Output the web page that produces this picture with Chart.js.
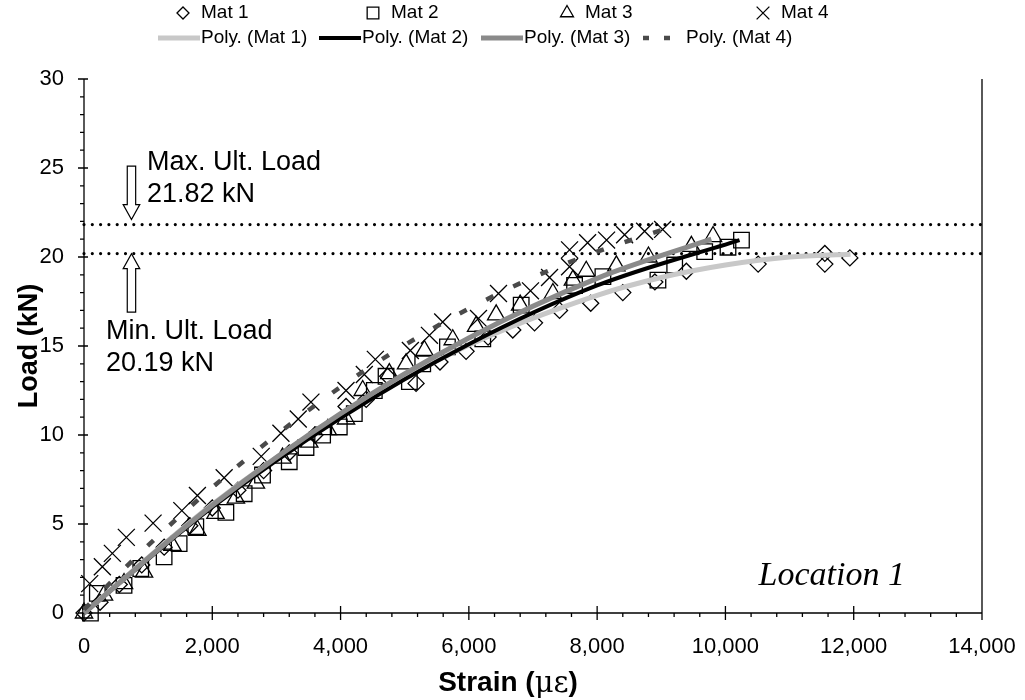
<!DOCTYPE html>
<html>
<head>
<meta charset="utf-8">
<script src="https://cdn.jsdelivr.net/npm/chart.js@4.4.0/dist/chart.umd.min.js"></script>
<style>
  html, body { margin: 0; padding: 0; background: #fff; }
  #wrap { width: 1025px; height: 700px; }
</style>
</head>
<body>
<div id="wrap"><canvas id="strainChart" width="1025" height="700"></canvas></div>
<script>
// Load vs. strain readings, four materials
const mat1Strain = [0, 250, 550, 900, 1250, 1650, 2000, 2400, 2800, 3200, 3600, 4085, 4400, 4734, 5177, 5550, 5957, 6300, 6685, 7024, 7414, 7900, 8400, 8900, 9391, 10510, 11550, 11550, 11940];
const mat1Load = [0, 0.6, 1.6, 2.7, 3.7, 4.9, 5.9, 6.9, 8.0, 9.0, 10.0, 11.6, 12.0, 13.3, 12.9, 14.1, 14.7, 15.5, 15.9, 16.3, 17.0, 17.4, 18.0, 18.6, 19.2, 19.6, 20.2, 19.6, 19.95];

const mat2Strain = [100, 208, 624, 885, 1249, 1483, 1743, 2212, 2497, 2783, 3200, 3461, 3720, 3980, 4214, 4526, 4709, 5073, 5281, 5666, 6217, 6816, 7648, 8090, 8948, 9209, 9677, 10040, 10250];
const mat2Load = [0, 1.1, 1.55, 2.5, 3.15, 3.9, 4.85, 5.65, 6.7, 7.75, 8.5, 9.3, 10.0, 10.45, 11.2, 12.5, 13.3, 13.0, 14.0, 14.95, 15.4, 17.3, 18.4, 18.9, 18.7, 19.55, 20.3, 20.55, 20.95];

const mat3Strain = [0, 312, 624, 936, 1378, 1768, 2050, 2368, 2680, 3095, 3512, 3800, 4085, 4345, 4760, 5021, 5307, 5749, 6113, 6426, 6800, 7310, 7622, 7830, 8300, 8800, 9469, 9807];
const mat3Load = [0, 1.0, 1.65, 2.3, 3.8, 4.65, 5.6, 6.45, 7.3, 8.7, 9.6, 10.3, 10.9, 12.5, 13.45, 14.0, 14.75, 15.35, 16.1, 16.75, 17.3, 17.95, 18.7, 19.2, 19.5, 20.0, 20.6, 21.15];

const mat4Strain = [89, 286, 442, 660, 1077, 1525, 1768, 2185, 2763, 3070, 3340, 3538, 4085, 4370, 4542, 5088, 5385, 5592, 6150, 6462, 6961, 7258, 7570, 7570, 7851, 8147, 8428, 8740, 9021];
const mat4Load = [1.65, 2.6, 3.35, 4.25, 5.05, 5.75, 6.6, 7.6, 8.8, 10.1, 10.9, 11.85, 12.5, 13.4, 14.25, 14.75, 15.6, 16.35, 16.55, 17.95, 18.1, 18.85, 19.45, 20.4, 20.8, 20.95, 21.25, 21.45, 21.55];

// Polynomial trend curves
const poly1Strain = [0, 2000, 4000, 6000, 8000, 9000, 10000, 11000, 11950];
const poly1Load = [0, 6.1, 11.1, 15.05, 17.85, 18.85, 19.55, 20.0, 20.15];
const poly2Strain = [0, 2000, 4000, 6000, 8000, 10220];
const poly2Load = [0, 5.95, 10.95, 15.1, 18.4, 20.95];
const poly3Strain = [0, 2000, 4000, 6000, 8000, 9780];
const poly3Load = [0, 6.05, 11.2, 15.45, 18.8, 21.0];
const poly4Strain = [0, 1000, 2000, 3000, 4000, 5000, 6000, 7000, 8000, 9000];
const poly4Load = [0.2, 3.8, 7.05, 10.0, 12.7, 15.05, 17.1, 18.85, 20.3, 21.5];

const maxUltLoad = 21.82;
const minUltLoad = 20.19;
const strainRange = [0, 14000];
const loadRange = [0, 30];

const FONT = "'Liberation Sans', Arial, sans-serif";

function pts(xs, ys) {
  return xs.map((x, i) => ({ x: x, y: ys[i] }));
}

function scatterSet(label, xs, ys, style, r) {
  return {
    type: "scatter",
    label: label,
    data: pts(xs, ys),
    pointStyle: style,
    pointRadius: r,
    pointHoverRadius: r,
    pointBorderColor: "#000",
    pointBackgroundColor: "rgba(0,0,0,0)",
    pointBorderWidth: 1.3,
    showLine: false,
    clip: false,
    order: 6,
  };
}

function trendSet(label, xs, ys, color, width, dash, order) {
  return {
    type: "line",
    label: label,
    data: pts(xs, ys),
    borderColor: color,
    borderWidth: width,
    borderDash: dash,
    pointRadius: 0,
    cubicInterpolationMode: "monotone",
    fill: false,
    clip: false,
    order: order,
  };
}

function limitSet(load) {
  return {
    type: "line",
    label: "",
    data: [{ x: strainRange[0], y: load }, { x: strainRange[1], y: load }],
    borderColor: "#000",
    borderWidth: 3.2,
    borderDash: [0, 8.3],
    borderCapStyle: "round",
    pointRadius: 0,
    clip: false,
    order: 9,
  };
}

const datasets = [
  scatterSet("Mat 1", mat1Strain, mat1Load, "rectRot", 8),
  scatterSet("Mat 2", mat2Strain, mat2Load, "rect", 11),
  scatterSet("Mat 3", mat3Strain, mat3Load, "triangle", 10),
  scatterSet("Mat 4", mat4Strain, mat4Load, "crossRot", 12),
  trendSet("Poly. (Mat 1)", poly1Strain, poly1Load, "#c8c8c8", 5, [], 4),
  trendSet("Poly. (Mat 2)", poly2Strain, poly2Load, "#000", 4, [], 3),
  trendSet("Poly. (Mat 3)", poly3Strain, poly3Load, "#8a8a8a", 5, [], 2),
  trendSet("Poly. (Mat 4)", poly4Strain, poly4Load, "#4a4a4a", 4.5, [8, 22], 1),
  limitSet(maxUltLoad),
  limitSet(minUltLoad),
];

// Two-row legend: markers on top, trend lines underneath
const legendRow1X = [183, 373, 567, 763];
const legendRow2X = [155, 316, 478, 640];

const legendRows = {
  id: "legendRows",
  afterDraw(chart) {
    const ctx = chart.ctx;
    const ds = chart.data.datasets;
    ctx.save();
    ctx.font = "19px " + FONT;
    ctx.fillStyle = "#000";
    ctx.textBaseline = "middle";
    for (let i = 0; i < 4; i++) {
      const d = ds[i];
      ctx.strokeStyle = "#000";
      ctx.fillStyle = "rgba(0,0,0,0)";
      ctx.lineWidth = 1.3;
      Chart.helpers.drawPoint(ctx, { pointStyle: d.pointStyle, radius: d.pointRadius * 0.75, rotation: 0, borderWidth: 1.3 }, legendRow1X[i], 13);
      ctx.fillStyle = "#000";
      ctx.fillText(d.label, legendRow1X[i] + 18, 13);
    }
    for (let i = 0; i < 4; i++) {
      const d = ds[i + 4];
      const x0 = legendRow2X[i];
      ctx.beginPath();
      ctx.strokeStyle = d.borderColor;
      ctx.lineWidth = d.borderWidth;
      if (d.borderDash.length) {
        ctx.setLineDash([6, 15]);
        ctx.moveTo(x0 + 3, 38);
        ctx.lineTo(x0 + 30, 38);
      } else {
        ctx.moveTo(x0 + 3, 38);
        ctx.lineTo(x0 + 45, 38);
      }
      ctx.stroke();
      ctx.setLineDash([]);
      ctx.fillStyle = "#000";
      ctx.fillText(d.label, x0 + 46, 38);
    }
    ctx.restore();
  },
};

// Axis lines, major/minor tick marks and the plot frame
const axisFrame = {
  id: "axisFrame",
  beforeDatasetsDraw(chart) {
    const ctx = chart.ctx;
    const a = chart.chartArea;
    const xs = chart.scales.x;
    const ys = chart.scales.y;
    ctx.save();
    ctx.strokeStyle = "#000";
    ctx.lineWidth = 1.3;
    ctx.beginPath();
    ctx.moveTo(a.left, a.top);
    ctx.lineTo(a.left, a.bottom);
    ctx.lineTo(a.right, a.bottom);
    ctx.lineTo(a.right, a.top);
    for (let v = 0; v <= 14000; v += 400) {
      const px = xs.getPixelForValue(v);
      if (v % 2000 === 0) {
        ctx.moveTo(px, a.bottom - 7);
        ctx.lineTo(px, a.bottom + 7);
      } else {
        ctx.moveTo(px, a.bottom);
        ctx.lineTo(px, a.bottom + 4);
      }
    }
    for (let v = 0; v <= 30; v += 1) {
      const py = ys.getPixelForValue(v);
      if (v % 5 === 0) {
        ctx.moveTo(a.left - 6, py);
        ctx.lineTo(a.left + 4, py);
      } else {
        ctx.moveTo(a.left - 4, py);
        ctx.lineTo(a.left, py);
      }
    }
    ctx.stroke();
    ctx.restore();
  },
};

// Hollow block arrow pointing up (dir = -1) or down (dir = 1)
function blockArrow(ctx, x, yTail, yTip, dir) {
  const shaft = 4.2;
  const head = 8.3;
  const headLen = 15;
  const yNeck = yTip - dir * headLen;
  ctx.beginPath();
  ctx.moveTo(x - shaft, yTail);
  ctx.lineTo(x - shaft, yNeck);
  ctx.lineTo(x - head, yNeck);
  ctx.lineTo(x, yTip);
  ctx.lineTo(x + head, yNeck);
  ctx.lineTo(x + shaft, yNeck);
  ctx.lineTo(x + shaft, yTail);
  ctx.closePath();
  ctx.fillStyle = "#fff";
  ctx.fill();
  ctx.stroke();
}

const notes = {
  id: "notes",
  afterDraw(chart) {
    const ctx = chart.ctx;
    const xs = chart.scales.x;
    const ys = chart.scales.y;
    ctx.save();
    ctx.strokeStyle = "#000";
    ctx.lineWidth = 1.2;
    const ax = xs.getPixelForValue(740);
    blockArrow(ctx, ax, ys.getPixelForValue(25.1), ys.getPixelForValue(maxUltLoad) - 5, 1);
    blockArrow(ctx, ax, ys.getPixelForValue(16.9), ys.getPixelForValue(minUltLoad), -1);

    ctx.fillStyle = "#000";
    ctx.textBaseline = "alphabetic";
    ctx.font = "27px " + FONT;
    ctx.fillText("Max. Ult. Load", 147, 170);
    ctx.fillText(maxUltLoad.toFixed(2) + " kN", 147, 202);
    ctx.fillText("Min. Ult. Load", 106, 339);
    ctx.fillText(minUltLoad.toFixed(2) + " kN", 106, 371);

    ctx.font = "italic 34px 'Liberation Serif', 'Times New Roman', serif";
    ctx.textAlign = "right";
    ctx.fillText("Location 1", 905, 585);

    // axis titles
    const bold = "bold 28px " + FONT;
    const greek = "29px 'DejaVu Serif', serif";
    ctx.textBaseline = "middle";
    ctx.font = bold;
    const t1 = "Strain (";
    const t2 = "\u03bc\u03b5";
    const t3 = ")";
    const w1 = ctx.measureText(t1).width;
    const w3 = ctx.measureText(t3).width;
    ctx.font = greek;
    const w2 = ctx.measureText(t2).width;
    const sx = 508 - (w1 + w2 + w3) / 2;
    ctx.textAlign = "left";
    ctx.font = bold;
    ctx.fillText(t1, sx, 683);
    ctx.font = greek;
    ctx.fillText(t2, sx + w1, 684);
    ctx.font = bold;
    ctx.fillText(t3, sx + w1 + w2, 683);

    ctx.font = "bold 27px " + FONT;
    ctx.translate(30, 346);
    ctx.rotate(-Math.PI / 2);
    ctx.textAlign = "center";
    ctx.fillText("Load (kN)", 0, 0);
    ctx.restore();
  },
};

const tickFont = { family: FONT, size: 22 };

new Chart(document.getElementById("strainChart"), {
  type: "scatter",
  data: { datasets: datasets },
  options: {
    responsive: false,
    animation: false,
    layout: { padding: { top: 79, right: 43, left: 0, bottom: 0 } },
    plugins: {
      legend: { display: false },
      tooltip: { enabled: false },
    },
    scales: {
      x: {
        type: "linear",
        min: strainRange[0],
        max: strainRange[1],
        ticks: { stepSize: 2000, color: "#000", font: tickFont, padding: 13, maxRotation: 0 },
        grid: { display: false },
        border: { display: false },
        afterFit: (s) => {
          s.height = 87;
          s.paddingLeft = 0;
          s.paddingRight = 0;
        },
      },
      y: {
        type: "linear",
        min: loadRange[0],
        max: loadRange[1],
        ticks: { stepSize: 5, color: "#000", font: tickFont, padding: 12 },
        grid: { display: false },
        border: { display: false },
        afterFit: (s) => {
          s.width = 84;
          s.paddingTop = 0;
          s.paddingBottom = 0;
        },
      },
    },
  },
  plugins: [axisFrame, notes, legendRows],
});
</script>
</body>
</html>
